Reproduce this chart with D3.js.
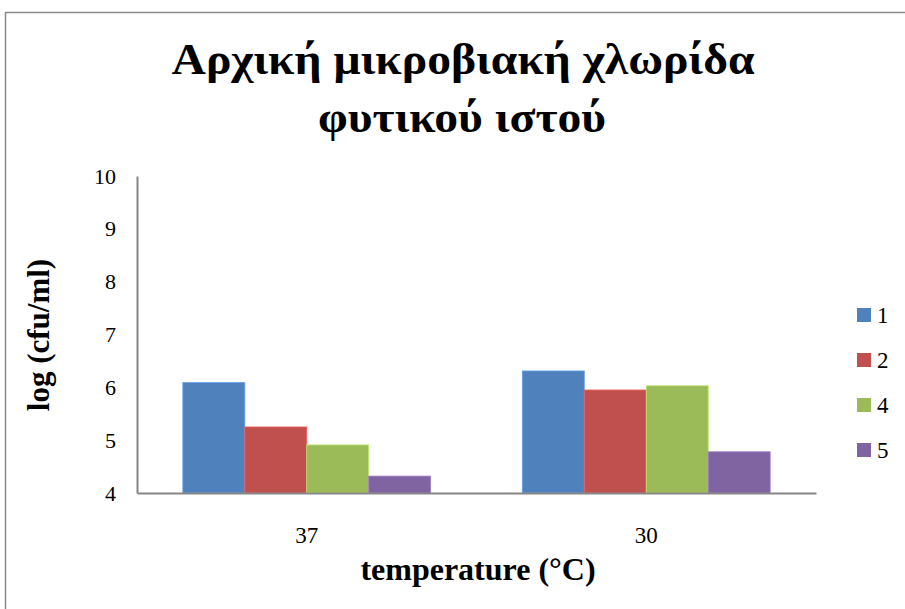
<!DOCTYPE html>
<html>
<head>
<meta charset="utf-8">
<script src="https://cdn.jsdelivr.net/npm/d3@7"></script>
<style>
  html, body { margin: 0; padding: 0; background: #fff; }
  svg { display: block; font-family: "Liberation Serif", "Times New Roman", serif; }
</style>
</head>
<body>
<svg id="chart" width="905" height="609"></svg>
<script>
// Initial microbial load of plant tissue, log(cfu/ml), per incubation temperature
const categories = ["37", "30"];
const seriesNames = ["1", "2", "4", "5"];
const seriesColors = ["#4F81BD", "#C0504D", "#9BBB59", "#8064A2"];
const values1 = [6.09, 6.31];
const values2 = [5.25, 5.95];
const values4 = [4.91, 6.03];
const values5 = [4.32, 4.78];
const yTicks = [4, 5, 6, 7, 8, 9, 10];

const seriesValues = [values1, values2, values4, values5];
const rows = categories.map((c, i) => ({
  category: c,
  bars: seriesNames.map((s, j) => ({ series: s, color: seriesColors[j], value: seriesValues[j][i] }))
}));

const serif = "Liberation Serif, Times New Roman, serif";
const svg = d3.select("#chart");
const plot = { left: 137, right: 816, top: 176, bottom: 493 };

// Outer chart frame
svg.append("rect")
  .attr("x", 5.5).attr("y", 12.5)
  .attr("width", 1000).attr("height", 1000)
  .attr("fill", "none").attr("stroke", "#8a8a8a").attr("stroke-width", 1.5);

// Title (two lines)
const title = svg.append("text")
  .attr("text-anchor", "middle")
  .attr("font-family", serif)
  .attr("font-size", 45).attr("font-weight", "bold").attr("fill", "#000");
title.append("tspan").attr("x", 463).attr("y", 74)
  .attr("textLength", 583).attr("lengthAdjust", "spacingAndGlyphs")
  .text("Αρχική μικροβιακή χλωρίδα");
title.append("tspan").attr("x", 462).attr("y", 132)
  .attr("textLength", 288).attr("lengthAdjust", "spacingAndGlyphs")
  .text("φυτικού ιστού");

const x0 = d3.scaleBand().domain(categories).range([plot.left, plot.right]).paddingInner(0.27).paddingOuter(0.135);
const x1 = d3.scaleBand().domain(seriesNames).range([0, x0.bandwidth()]);
const y = d3.scaleLinear().domain([4, 10]).range([plot.bottom, plot.top]);

// Bars
const groups = svg.append("g").selectAll("g").data(rows).join("g")
  .attr("transform", d => `translate(${x0(d.category)},0)`);
groups.selectAll("rect").data(d => d.bars).join("rect")
  .attr("x", d => x1(d.series))
  .attr("y", d => y(d.value))
  .attr("width", x1.bandwidth())
  .attr("height", d => y(4) - y(d.value))
  .attr("fill", d => d.color)
  .attr("stroke", d => d3.color(d.color).brighter(0.6))
  .attr("stroke-width", 0.8);

// Y axis
const yAxis = svg.append("g")
  .attr("transform", `translate(${plot.left},0)`)
  .call(d3.axisLeft(y).tickValues(yTicks).tickSize(0).tickPadding(21).tickFormat(d3.format("d")));
yAxis.select(".domain").attr("stroke", "#868686").attr("stroke-width", 2);
yAxis.selectAll("text").attr("font-size", 22).attr("font-family", serif).attr("fill", "#000");

// X axis
const xAxis = svg.append("g")
  .attr("transform", `translate(0,${plot.bottom})`)
  .call(d3.axisBottom(x0).tickSize(0).tickSizeOuter(0));
xAxis.select(".domain").attr("stroke", "#868686").attr("stroke-width", 2);
xAxis.selectAll("text")
  .attr("y", 50).attr("dy", null)
  .attr("font-size", 23).attr("font-family", serif).attr("fill", "#000");

// Axis titles
svg.append("text")
  .attr("transform", "translate(49,335) rotate(-90)")
  .attr("text-anchor", "middle")
  .attr("font-family", serif)
  .attr("font-size", 31).attr("font-weight", "bold").attr("fill", "#000")
  .text("log (cfu/ml)");
svg.append("text")
  .attr("x", 478).attr("y", 580)
  .attr("text-anchor", "middle")
  .attr("font-family", serif)
  .attr("font-size", 32).attr("font-weight", "bold").attr("fill", "#000")
  .text("temperature (°C)");

// Legend
const legend = svg.append("g").selectAll("g").data(seriesNames).join("g")
  .attr("transform", (d, i) => `translate(857,${315 + i * 45})`);
legend.append("rect")
  .attr("x", 0).attr("y", -7).attr("width", 14).attr("height", 14)
  .attr("fill", (d, i) => seriesColors[i]);
legend.append("text")
  .attr("x", 20).attr("y", 8)
  .attr("font-family", serif)
  .attr("font-size", 23).attr("fill", "#000")
  .text(d => d);
</script>
</body>
</html>
